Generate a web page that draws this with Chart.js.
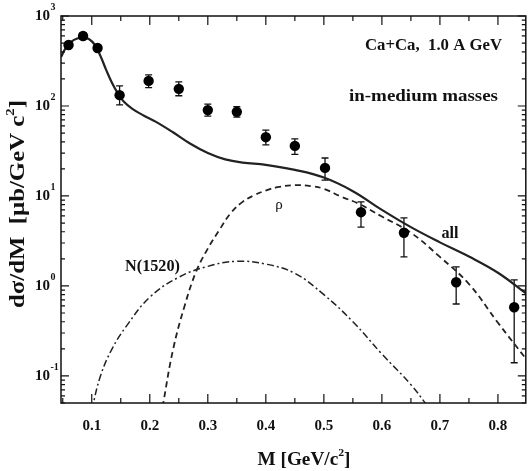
<!DOCTYPE html>
<html><head><meta charset="utf-8">
<script src="https://cdn.jsdelivr.net/npm/chart.js@4.4.1/dist/chart.umd.min.js"></script>
<style>html,body{margin:0;padding:0;background:#fff;overflow:hidden}</style>
</head><body>
<canvas id="c" width="531" height="471"></canvas>
<script>
// ---- data ----
const dataMass    = [0.060,0.085,0.110,0.148,0.198,0.250,0.300,0.350,0.400,0.450,0.502,0.564,0.638,0.728,0.828];
const dataValues  = [476,600,441,132,190,155,90,86,45,36,20.5,6.6,3.9,1.1,0.58];
const dataErrLow  = [440,555,405,103,160,130,77,75,37,29,15,4.5,2.1,0.63,0.14];
const dataErrHigh = [515,650,480,167,222,185,105,98,54,43,26.4,8.6,5.7,1.63,1.17];

const allMass   = [0.047,0.055,0.065,0.075,0.085,0.095,0.105,0.115,0.125,0.135,0.145,0.155,0.17,0.19,0.21,0.24,0.27,0.30,0.33,0.36,0.40,0.45,0.50,0.55,0.60,0.65,0.70,0.75,0.80,0.85];
const allValues = [350,440,520,562,575,555,480,360,250,180,138,112,93,78,67,51,38,30,25.5,23.5,22.2,19.5,16,11.3,7.0,4.5,3.05,2.12,1.40,0.81];

const rhoMass   = [0.222,0.24,0.26,0.28,0.30,0.32,0.34,0.36,0.38,0.40,0.42,0.45,0.48,0.50,0.53,0.56,0.60,0.65,0.70,0.75,0.80,0.85];
const rhoValues = [0.045,0.195,0.6,1.45,2.6,4.2,6.5,8.6,10.2,11.5,12.5,13.2,12.8,12.0,9.8,8.2,5.9,3.9,2.1,1.05,0.39,0.15];

const nMass   = [0.10,0.115,0.135,0.16,0.20,0.25,0.30,0.35,0.40,0.45,0.50,0.55,0.60,0.65,0.68];
const nValues = [0.042,0.1,0.2,0.36,0.75,1.25,1.65,1.88,1.75,1.38,0.8,0.4,0.175,0.08,0.045];

const xMajorTicks = [0.1,0.2,0.3,0.4,0.5,0.6,0.7,0.8];
const xTickLabels = ['0.1','0.2','0.3','0.4','0.5','0.6','0.7','0.8'];
const xMinorTicks = [0.05,0.15,0.25,0.35,0.45,0.55,0.65,0.75];
const yDecades = [0.1,1,10,100,1000];
const yExponents = ['-1','0','1','2','3'];

const xTitle = 'M [GeV/c';
const yTitle = 'd\u03c3/dM  [\u03bcb/GeV c';
const infoLine1 = 'Ca+Ca,  1.0 A GeV';
const infoLine2 = 'in-medium masses';

const SERIF = '"Liberation Serif", "Times New Roman", serif';
const pts = (xs, ys) => xs.map((x,i)=>({x, y: ys[i]}));

function richWidth(ctx, segs){
  let w=0; segs.forEach(s=>{ctx.font=s.font; w+=ctx.measureText(s.t).width;}); return w;
}
function drawRich(ctx, segs, cx, cy, target){
  const w = richWidth(ctx, segs);
  const s = target ? target / w : 1;
  ctx.save(); ctx.translate(cx, cy); ctx.scale(s,1);
  let x = -w/2;
  ctx.textAlign='left'; ctx.textBaseline='alphabetic';
  segs.forEach(sg=>{ctx.font=sg.font; ctx.fillText(sg.t, x, sg.dy||0); x+=ctx.measureText(sg.t).width;});
  ctx.restore();
}

const deco = {
  id:'deco',
  beforeDatasetsDraw(chart){
    const {ctx} = chart, xs = chart.scales.x, ys = chart.scales.y;
    ctx.save(); ctx.strokeStyle='#111'; ctx.lineWidth=1.3;
    dataMass.forEach((m,i)=>{
      const px = xs.getPixelForValue(m);
      const y1 = ys.getPixelForValue(dataErrHigh[i]);
      const y2 = ys.getPixelForValue(dataErrLow[i]);
      ctx.beginPath();
      ctx.moveTo(px,y1); ctx.lineTo(px,y2);
      ctx.moveTo(px-3.5,y1); ctx.lineTo(px+3.5,y1);
      ctx.moveTo(px-3.5,y2); ctx.lineTo(px+3.5,y2);
      ctx.stroke();
    });
    ctx.restore();
  },
  afterDraw(chart){
    const {ctx, chartArea:a} = chart, xs = chart.scales.x, ys = chart.scales.y;
    ctx.save();
    ctx.strokeStyle='#111'; ctx.fillStyle='#111'; ctx.lineWidth=1.5;
    ctx.strokeRect(a.left, a.top, a.right-a.left, a.bottom-a.top);
    ctx.lineWidth=1.2;
    ctx.beginPath();
    const xt = (v,len)=>{ const p=xs.getPixelForValue(v); if(p<a.left+1||p>a.right-1) return;
      ctx.moveTo(p,a.bottom); ctx.lineTo(p,a.bottom-len); ctx.moveTo(p,a.top); ctx.lineTo(p,a.top+len); };
    xMajorTicks.forEach(v=>xt(v,9)); xMinorTicks.forEach(v=>xt(v,5));
    const yt = (v,len)=>{ const p=ys.getPixelForValue(v); if(p<a.top-0.5||p>a.bottom+0.5) return;
      ctx.moveTo(a.left,p); ctx.lineTo(a.left+len,p); ctx.moveTo(a.right,p); ctx.lineTo(a.right-len,p); };
    yDecades.forEach(d=>{ yt(d,8); for(let k=2;k<=9;k++) yt(d*k/10,4); if(d===0.1){ for(let k=5;k<=9;k++) yt(d*k/10,4);} });
    ctx.stroke();
    // x tick labels
    ctx.font='bold 15px '+SERIF; ctx.textAlign='center'; ctx.textBaseline='alphabetic';
    xMajorTicks.forEach((v,i)=>ctx.fillText(xTickLabels[i], xs.getPixelForValue(v), 430));
    // y tick labels
    yDecades.forEach((d,i)=>{
      const p = ys.getPixelForValue(d);
      ctx.textAlign='left';
      ctx.font='bold 15px '+SERIF; ctx.fillText('10', 35, p+4);
      ctx.font='bold 10px '+SERIF; ctx.fillText(yExponents[i], 50.5, p-6);
    });
    // x title
    drawRich(ctx, [{t:xTitle,font:'bold 18px '+SERIF},{t:'2',font:'bold 11px '+SERIF,dy:-9},{t:']',font:'bold 18px '+SERIF}], 304, 465, 93);
    // y title
    ctx.save(); ctx.translate(24, 204); ctx.rotate(-Math.PI/2);
    drawRich(ctx, [{t:yTitle,font:'bold 20px '+SERIF},{t:'2',font:'bold 12px '+SERIF,dy:-10},{t:']',font:'bold 20px '+SERIF}], 0, 0, 208);
    ctx.restore();
    // annotations
    drawRich(ctx, [{t:infoLine1,font:'bold 17px '+SERIF}], 433.5, 50, 137);
    drawRich(ctx, [{t:infoLine2,font:'bold 17px '+SERIF}], 423.5, 101, 149);
    drawRich(ctx, [{t:'all',font:'bold 16px '+SERIF}], 450, 238, 17);
    drawRich(ctx, [{t:'N(1520)',font:'bold 16px '+SERIF}], 152.5, 271, 55);
    drawRich(ctx, [{t:'\u03c1',font:'15px '+SERIF}], 279, 209);
    ctx.restore();
  }
};

new Chart(document.getElementById('c'), {
  type:'line',
  data:{ datasets:[
    {label:'data', data:pts(dataMass,dataValues), showLine:false, pointRadius:5.2, pointBackgroundColor:'#000', pointBorderColor:'#000', pointBorderWidth:0},
    {label:'all', data:pts(allMass,allValues), borderColor:'#222', borderWidth:2.2, pointRadius:0, tension:0.4, fill:false},
    {label:'rho', data:pts(rhoMass,rhoValues), borderColor:'#222', borderWidth:1.8, borderDash:[6,4], pointRadius:0, tension:0.4, fill:false},
    {label:'N1520', data:pts(nMass,nValues), borderColor:'#222', borderWidth:1.5, borderDash:[7,3,2,3], pointRadius:0, tension:0.4, fill:false}
  ]},
  options:{
    responsive:false, animation:false, devicePixelRatio:1,
    layout:{padding:{top:16,right:5,left:0,bottom:0}},
    plugins:{legend:{display:false}, tooltip:{enabled:false}},
    scales:{
      x:{type:'linear', min:0.047, max:0.848, grid:{display:false}, border:{display:false}, ticks:{display:false},
         afterFit(s){ s.height = 68; }},
      y:{type:'logarithmic', min:0.05, max:1000, grid:{display:false}, border:{display:false}, ticks:{display:false},
         afterFit(s){ s.width = 61; }}
    }
  },
  plugins:[deco]
});
</script>
</body></html>
